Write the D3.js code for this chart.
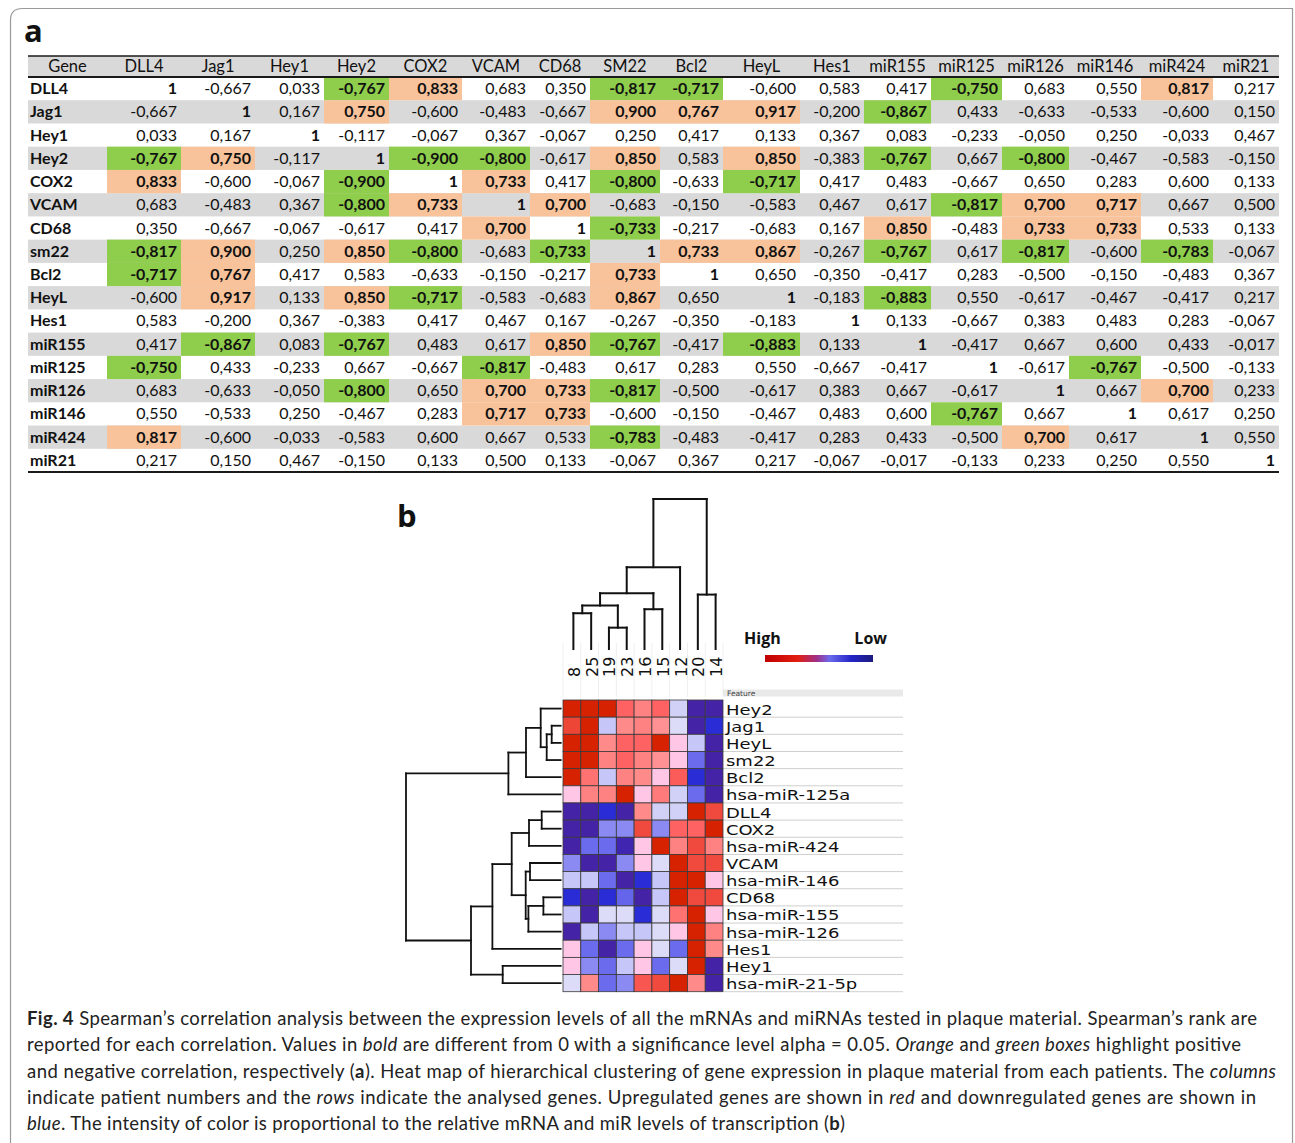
<!DOCTYPE html>
<html><head><meta charset="utf-8">
<script src="https://cdn.jsdelivr.net/npm/d3@7/dist/d3.min.js"></script>
<style>body{margin:0;background:#fff}svg{display:block}</style>
</head><body>
<svg id="fig" width="1295" height="1143"></svg>
<script>
// ---------------- DATA ----------------
const tableHeaders = ["Gene","DLL4","Jag1","Hey1","Hey2","COX2","VCAM","CD68","SM22","Bcl2","HeyL","Hes1","miR155","miR125","miR126","miR146","miR424","miR21"];
const tableGenes = ["DLL4","Jag1","Hey1","Hey2","COX2","VCAM","CD68","sm22","Bcl2","HeyL","Hes1","miR155","miR125","miR126","miR146","miR424","miR21"];
const corrValues = [
 [1,-0.667,0.033,-0.767,0.833,0.683,0.350,-0.817,-0.717,-0.600,0.583,0.417,-0.750,0.683,0.550,0.817,0.217],
 [-0.667,1,0.167,0.750,-0.600,-0.483,-0.667,0.900,0.767,0.917,-0.200,-0.867,0.433,-0.633,-0.533,-0.600,0.150],
 [0.033,0.167,1,-0.117,-0.067,0.367,-0.067,0.250,0.417,0.133,0.367,0.083,-0.233,-0.050,0.250,-0.033,0.467],
 [-0.767,0.750,-0.117,1,-0.900,-0.800,-0.617,0.850,0.583,0.850,-0.383,-0.767,0.667,-0.800,-0.467,-0.583,-0.150],
 [0.833,-0.600,-0.067,-0.900,1,0.733,0.417,-0.800,-0.633,-0.717,0.417,0.483,-0.667,0.650,0.283,0.600,0.133],
 [0.683,-0.483,0.367,-0.800,0.733,1,0.700,-0.683,-0.150,-0.583,0.467,0.617,-0.817,0.700,0.717,0.667,0.500],
 [0.350,-0.667,-0.067,-0.617,0.417,0.700,1,-0.733,-0.217,-0.683,0.167,0.850,-0.483,0.733,0.733,0.533,0.133],
 [-0.817,0.900,0.250,0.850,-0.800,-0.683,-0.733,1,0.733,0.867,-0.267,-0.767,0.617,-0.817,-0.600,-0.783,-0.067],
 [-0.717,0.767,0.417,0.583,-0.633,-0.150,-0.217,0.733,1,0.650,-0.350,-0.417,0.283,-0.500,-0.150,-0.483,0.367],
 [-0.600,0.917,0.133,0.850,-0.717,-0.583,-0.683,0.867,0.650,1,-0.183,-0.883,0.550,-0.617,-0.467,-0.417,0.217],
 [0.583,-0.200,0.367,-0.383,0.417,0.467,0.167,-0.267,-0.350,-0.183,1,0.133,-0.667,0.383,0.483,0.283,-0.067],
 [0.417,-0.867,0.083,-0.767,0.483,0.617,0.850,-0.767,-0.417,-0.883,0.133,1,-0.417,0.667,0.600,0.433,-0.017],
 [-0.750,0.433,-0.233,0.667,-0.667,-0.817,-0.483,0.617,0.283,0.550,-0.667,-0.417,1,-0.617,-0.767,-0.500,-0.133],
 [0.683,-0.633,-0.050,-0.800,0.650,0.700,0.733,-0.817,-0.500,-0.617,0.383,0.667,-0.617,1,0.667,0.700,0.233],
 [0.550,-0.533,0.250,-0.467,0.283,0.717,0.733,-0.600,-0.150,-0.467,0.483,0.600,-0.767,0.667,1,0.617,0.250],
 [0.817,-0.600,-0.033,-0.583,0.600,0.667,0.533,-0.783,-0.483,-0.417,0.283,0.433,-0.500,0.700,0.617,1,0.550],
 [0.217,0.150,0.467,-0.150,0.133,0.500,0.133,-0.067,0.367,0.217,-0.067,-0.017,-0.133,0.233,0.250,0.550,1]
];

const heatRows = ["Hey2","Jag1","HeyL","sm22","Bcl2","hsa-miR-125a","DLL4","COX2","hsa-miR-424","VCAM","hsa-miR-146","CD68","hsa-miR-155","hsa-miR-126","Hes1","Hey1","hsa-miR-21-5p"];
const heatCols = ["8","25","19","23","16","15","12","20","14"];
const heatValues = [
 [3,3,3,1.8,1.4,1.8,-0.4,-3,-3],
 [2.3,3,-0.5,1.3,1.4,1.2,-0.3,-3,-2.5],
 [3,3,1.3,1.8,1.8,3,0.4,-0.5,-3],
 [3,3,1.4,1.8,1.4,1.2,0.4,-1.5,-3],
 [3,1.6,-0.5,1.4,1.3,0.4,1.9,-2.5,-3],
 [0.4,1.4,1.4,3,0.4,1.5,-0.4,-1.5,-3],
 [-3,-3,-2.5,-3,1.3,-0.4,-0.4,3,2.2],
 [-3,-3,-1.2,-1.2,2.2,-1.2,1.8,1.8,3],
 [-3,-1.5,-1.5,-2.9,0.4,3,1.4,2.2,1.4],
 [-1.2,-3,-3,-1.2,0.4,-0.3,3,2.2,2.2],
 [-0.5,-0.5,-1.5,-3,-2.5,-0.5,3,3,0.4],
 [-2.5,-3,-2.5,-1.6,-3,-0.5,3,2.2,2.2],
 [-0.5,-3,-0.3,-0.3,-2.5,-0.3,1.6,3,0.4],
 [-3,-0.5,-1.2,-0.5,-0.5,-0.3,0.4,3,1.4],
 [0.4,-1.5,-3,-1.5,0.4,-0.3,-1.5,3,1.3],
 [0.4,-1.2,-1.5,-0.5,0.4,-1.5,-0.3,3,-3],
 [-0.3,1.3,-1.5,-1.2,2.0,2.2,3,1.3,-3]
];

// hierarchical clustering merges: [left, right, distance]; numbers refer to earlier merges
const rowMerges = [
 ["Jag1","HeyL",9],[0,"sm22",14],["Hey2",1,20],[2,"Bcl2",34.7],[3,"hsa-miR-125a",52.3],
 ["DLL4","COX2",19],[5,"hsa-miR-424",31.7],["VCAM","hsa-miR-146",30.7],["CD68","hsa-miR-155",17.3],
 [8,"hsa-miR-126",32.3],[7,9,35],[6,10,49],[11,"Hes1",68.3],["Hey1","hsa-miR-21-5p",58],[12,13,89.7],[4,14,154.7]
];
const colMerges = [
 ["8","25",35.7],["19","23",21.3],[0,1,43.3],["16","15",39.7],[2,3,55.7],[4,"12",81.7],["20","14",54.3],[5,6,149.7]
];
const legendLabels = ["High","Low"];

const captionLines = [
 [["Fig. 4","b"],["  Spearman\u2019s correlation analysis between the expression levels of all the mRNAs and miRNAs tested in plaque material. Spearman\u2019s rank are",""]],
 [["reported for each correlation. Values in ",""],["bold","i"],[" are different from 0 with a significance level alpha = 0.05. ",""],["Orange","i"],[" and ",""],["green boxes","i"],[" highlight positive",""]],
 [["and negative correlation, respectively (",""],["a","b"],["). Heat map of hierarchical clustering of gene expression in plaque material from each patients. The ",""],["columns","i"]],
 [["indicate patient numbers and the ",""],["rows","i"],[" indicate the analysed genes. Upregulated genes are shown in ",""],["red","i"],[" and downregulated genes are shown in",""]],
 [["blue","i"],[". The intensity of color is proportional to the relative mRNA and miR levels of transcription (",""],["b","b"],[")",""]]
];

// ---------------- DRAW ----------------
const svg = d3.select("#fig");

// frame
svg.append("path")
  .attr("d","M10.5,1143 L10.5,20 Q10.5,8.5 22.5,8.5 L1292.5,8.5 L1292.5,1143")
  .attr("fill","none").attr("stroke","#9a9a9a").attr("stroke-width",1.2);

// panel labels
svg.append("text").attr("x",24).attr("y",42).text("a")
  .attr("font-family","Open Sans").attr("font-weight",700).attr("font-size",31).attr("fill","#111");
svg.append("text").attr("x",397).attr("y",527).text("b")
  .attr("font-family","Open Sans").attr("font-weight",700).attr("font-size",31).attr("fill","#111");

// ----- table -----
const colEdges = [28,107,181,255,324,389,462,530,590,660,723,800,864,931,1002,1069,1141,1213,1279];
const tLeft = 28, tRight = 1279, tTop = 56, hdrBottom = 77, tBottom = 472;
const yRow = d3.scaleBand().domain(tableGenes).range([hdrBottom, tBottom]);
const fmt = v => v === 1 ? "1" : d3.format(".3f")(v).replace("\u2212","-").replace(".",",");
const tg = svg.append("g").attr("font-family","Lato").attr("font-size",16).attr("fill","#111");

tg.append("rect").attr("x",tLeft).attr("y",tTop).attr("width",tRight-tLeft).attr("height",hdrBottom-tTop).attr("fill","#d9d9d9");
tg.selectAll("rect.rowbg").data(tableGenes.filter((g,i)=>i%2===1)).join("rect").attr("class","rowbg")
  .attr("x",tLeft).attr("y",d=>yRow(d)).attr("width",tRight-tLeft).attr("height",yRow.bandwidth()).attr("fill","#d9d9d9");

const cells = [];
corrValues.forEach((row,i)=>row.forEach((v,j)=>cells.push({gene:tableGenes[i],j:j+1,v})));
tg.selectAll("rect.hl").data(cells.filter(c=>c.v!==1 && Math.abs(c.v)>=0.7)).join("rect").attr("class","hl")
  .attr("x",c=>colEdges[c.j]).attr("y",c=>yRow(c.gene)).attr("width",c=>colEdges[c.j+1]-colEdges[c.j])
  .attr("height",yRow.bandwidth()).attr("fill",c=>c.v>0?"#f8c39b":"#8fcd4c");

tg.selectAll("text.hdr").data(tableHeaders).join("text").attr("class","hdr")
  .attr("x",(d,j)=>(colEdges[j]+colEdges[j+1])/2).attr("y",(tTop+hdrBottom)/2+5.8)
  .attr("text-anchor","middle").attr("font-size",16.5).text(d=>d);
tg.selectAll("text.gene").data(tableGenes).join("text").attr("class","gene")
  .attr("x",tLeft+2).attr("y",d=>yRow(d)+yRow.bandwidth()/2+5.5).attr("font-weight",700).text(d=>d);
tg.selectAll("text.val").data(cells).join("text").attr("class","val")
  .attr("x",c=>colEdges[c.j+1]-4).attr("y",c=>yRow(c.gene)+yRow.bandwidth()/2+5.5)
  .attr("text-anchor","end").attr("font-weight",c=>(c.v===1||Math.abs(c.v)>=0.7)?700:400).text(c=>fmt(c.v));

[[tTop,1.5],[hdrBottom,2.2],[tBottom,2.2]].forEach(([y,w])=>
  tg.append("line").attr("x1",tLeft).attr("x2",tRight).attr("y1",y).attr("y2",y).attr("stroke","#1a1a1a").attr("stroke-width",w));

// ----- heatmap -----
const hx = d3.scaleBand().domain(heatCols).range([563,723]);
const hy = d3.scaleBand().domain(heatRows).range([700,991.7]);
const color = d3.scaleLinear()
  .domain([-3,-2.5,-1.5,-1.2,-0.5,-0.3,0.4,1.3,1.8,2.2,3])
  .range(["#4523a6","#2a2cd6","#6b6bee","#8a8af2","#c6c6f8","#dcdcf8","#ffc6e6","#ff8a8a","#ff6262","#f04a3e","#d62200"])
  .clamp(true);

const hm = svg.append("g");
// column-label grid
hm.selectAll("line.cg").data(d3.range(heatCols.length+1)).join("line").attr("class","cg")
  .attr("x1",i=>563+i*hx.step()).attr("x2",i=>563+i*hx.step()).attr("y1",643).attr("y2",697)
  .attr("stroke","#efefef").attr("stroke-width",1);
const hcells = [];
heatValues.forEach((row,i)=>row.forEach((v,j)=>hcells.push({r:heatRows[i],c:heatCols[j],v})));
hm.selectAll("rect.hc").data(hcells).join("rect").attr("class","hc")
  .attr("x",d=>hx(d.c)).attr("y",d=>hy(d.r)).attr("width",hx.bandwidth()).attr("height",hy.bandwidth())
  .attr("fill",d=>color(d.v)).attr("stroke","#3a3a3a").attr("stroke-width",0.8);

// feature header + row labels
hm.append("rect").attr("x",723).attr("y",689.5).attr("width",180).attr("height",7).attr("fill","#e9e9e9");
hm.append("text").attr("x",727).attr("y",695.5).attr("font-family","DejaVu Sans").attr("font-size",7.5).attr("fill","#444").text("Feature");
hm.selectAll("line.rl").data(heatRows).join("line").attr("class","rl")
  .attr("x1",724).attr("x2",903).attr("y1",d=>hy(d)+hy.bandwidth()).attr("y2",d=>hy(d)+hy.bandwidth())
  .attr("stroke","#cfcfcf").attr("stroke-width",1);
hm.selectAll("text.rlab").data(heatRows).join("text").attr("class","rlab")
  .attr("transform",d=>`translate(726,${hy(d)+hy.bandwidth()-2.6}) scale(1,0.8)`)
  .attr("font-family","DejaVu Sans").attr("font-size",18).attr("fill","#111").text(d=>d);
hm.selectAll("text.clab").data(heatCols).join("text").attr("class","clab")
  .attr("transform",d=>`translate(${hx(d)+hx.bandwidth()/2+8},677) rotate(-90)`)
  .attr("font-family","DejaVu Sans").attr("font-size",16).attr("fill","#111").text(d=>d);

// ----- dendrograms -----
function buildTree(merges){
  const nodes = [];
  merges.forEach(([a,b,h],i)=>{
    const toNode = v => typeof v === "number" ? nodes[v] : {name:v, dist:0};
    nodes[i] = {dist:h, children:[toNode(a),toNode(b)]};
  });
  return d3.hierarchy(nodes[nodes.length-1]);
}
function layoutTree(root, leafPos){
  root.eachAfter(n=>{ n.pos = n.children ? d3.mean(n.children,c=>c.pos) : leafPos(n.data.name); });
  return root;
}
function elbowSegments(root, distFn, horizontal){
  const segs = [];
  root.each(n=>{
    if(!n.children) return;
    const d0 = distFn(n.data.dist);
    const ps = n.children.map(c=>c.pos);
    segs.push(horizontal ? [[d0,d3.min(ps)],[d0,d3.max(ps)]] : [[d3.min(ps),d0],[d3.max(ps),d0]]);
    n.children.forEach(c=>{
      const d1 = distFn(c.data.dist);
      segs.push(horizontal ? [[d0,c.pos],[d1,c.pos]] : [[c.pos,d0],[c.pos,d1]]);
    });
  });
  return segs;
}
const line = d3.line();
// row dendrogram
const rowRoot = layoutTree(buildTree(rowMerges), name=>hy(name)+hy.bandwidth()/2);
const rowDist = d3.scaleLinear().domain([0,154.7]).range([560.7,406]);
svg.append("g").selectAll("path").data(elbowSegments(rowRoot,rowDist,true)).join("path")
  .attr("d",line).attr("stroke","#111").attr("stroke-width",1.8).attr("fill","none").attr("stroke-linecap","square");
// column dendrogram
const colRoot = layoutTree(buildTree(colMerges), name=>hx(name)+hx.bandwidth()/2+1.5);
const colDist = d3.scaleLinear().domain([0,149.7]).range([649,499]);
svg.append("g").selectAll("path").data(elbowSegments(colRoot,colDist,false)).join("path")
  .attr("d",line).attr("stroke","#111").attr("stroke-width",2).attr("fill","none").attr("stroke-linecap","square");

// ----- legend -----
const defs = svg.append("defs");
const grad = defs.append("linearGradient").attr("id","hl").attr("x1","0%").attr("x2","100%");
[[0,"#c00000"],[0.3,"#e21e10"],[0.48,"#a03088"],[0.6,"#6a6aee"],[0.8,"#2424c8"],[1,"#1c1c7e"]]
  .forEach(([o,c])=>grad.append("stop").attr("offset",o).attr("stop-color",c));
svg.append("rect").attr("x",765).attr("y",655).attr("width",108).attr("height",7).attr("fill","url(#hl)");
svg.append("text").attr("x",744).attr("y",644).text(legendLabels[0])
  .attr("font-family","Open Sans").attr("font-weight",700).attr("font-size",16).attr("fill","#111");
svg.append("text").attr("x",887).attr("y",644).attr("text-anchor","end").text(legendLabels[1])
  .attr("font-family","Open Sans").attr("font-weight",700).attr("font-size",16).attr("fill","#111");

// ----- caption -----
const capEnds = [1257,1241,1276,1256,845];
const cap = svg.append("g").attr("font-family","Lato").attr("font-size",18.5).attr("fill","#222");
captionLines.forEach((segs,i)=>{
  const t = cap.append("text").attr("x",27).attr("y",1025+i*26.3)
    .attr("textLength",capEnds[i]-27).attr("lengthAdjust","spacing");
  segs.forEach(([s,st])=>{
    const ts = t.append("tspan").text(s);
    if(st==="b") ts.attr("font-weight",700);
    if(st==="i") ts.attr("font-style","italic");
  });
});
</script>
</body></html>
